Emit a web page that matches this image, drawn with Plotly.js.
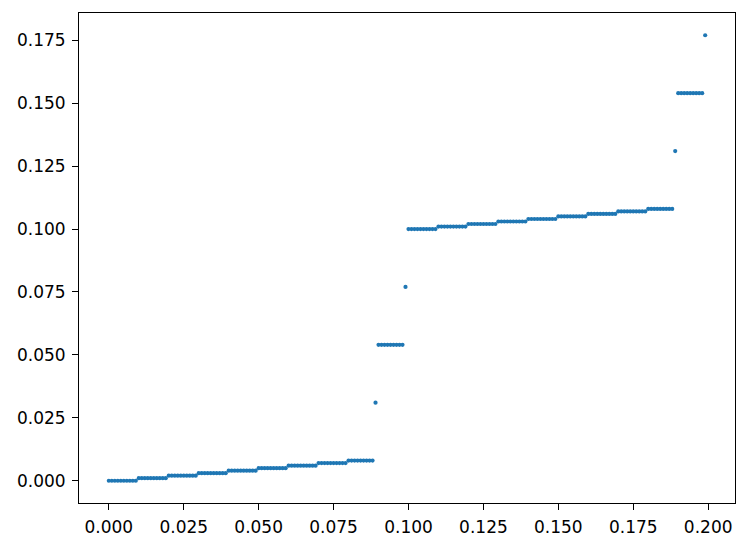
<!DOCTYPE html>
<html>
<head>
<meta charset="utf-8">
<script src="https://cdn.plot.ly/plotly-3.0.1.min.js"></script>
<style>html,body{margin:0;padding:0;background:#fff;}#chart{width:748px;height:546px;}</style>
</head>
<body>
<div id="chart"></div>
<script>
const xValues = [
  0.000,0.001,0.002,0.003,0.004,0.005,0.006,0.007,0.008,0.009,
  0.010,0.011,0.012,0.013,0.014,0.015,0.016,0.017,0.018,0.019,
  0.020,0.021,0.022,0.023,0.024,0.025,0.026,0.027,0.028,0.029,
  0.030,0.031,0.032,0.033,0.034,0.035,0.036,0.037,0.038,0.039,
  0.040,0.041,0.042,0.043,0.044,0.045,0.046,0.047,0.048,0.049,
  0.050,0.051,0.052,0.053,0.054,0.055,0.056,0.057,0.058,0.059,
  0.060,0.061,0.062,0.063,0.064,0.065,0.066,0.067,0.068,0.069,
  0.070,0.071,0.072,0.073,0.074,0.075,0.076,0.077,0.078,0.079,
  0.080,0.081,0.082,0.083,0.084,0.085,0.086,0.087,0.088,0.089,
  0.090,0.091,0.092,0.093,0.094,0.095,0.096,0.097,0.098,0.099,
  0.100,0.101,0.102,0.103,0.104,0.105,0.106,0.107,0.108,0.109,
  0.110,0.111,0.112,0.113,0.114,0.115,0.116,0.117,0.118,0.119,
  0.120,0.121,0.122,0.123,0.124,0.125,0.126,0.127,0.128,0.129,
  0.130,0.131,0.132,0.133,0.134,0.135,0.136,0.137,0.138,0.139,
  0.140,0.141,0.142,0.143,0.144,0.145,0.146,0.147,0.148,0.149,
  0.150,0.151,0.152,0.153,0.154,0.155,0.156,0.157,0.158,0.159,
  0.160,0.161,0.162,0.163,0.164,0.165,0.166,0.167,0.168,0.169,
  0.170,0.171,0.172,0.173,0.174,0.175,0.176,0.177,0.178,0.179,
  0.180,0.181,0.182,0.183,0.184,0.185,0.186,0.187,0.188,0.189,
  0.190,0.191,0.192,0.193,0.194,0.195,0.196,0.197,0.198,0.199
];
const yValues = [
  0.000,0.000,0.000,0.000,0.000,0.000,0.000,0.000,0.000,0.000,
  0.001,0.001,0.001,0.001,0.001,0.001,0.001,0.001,0.001,0.001,
  0.002,0.002,0.002,0.002,0.002,0.002,0.002,0.002,0.002,0.002,
  0.003,0.003,0.003,0.003,0.003,0.003,0.003,0.003,0.003,0.003,
  0.004,0.004,0.004,0.004,0.004,0.004,0.004,0.004,0.004,0.004,
  0.005,0.005,0.005,0.005,0.005,0.005,0.005,0.005,0.005,0.005,
  0.006,0.006,0.006,0.006,0.006,0.006,0.006,0.006,0.006,0.006,
  0.007,0.007,0.007,0.007,0.007,0.007,0.007,0.007,0.007,0.007,
  0.008,0.008,0.008,0.008,0.008,0.008,0.008,0.008,0.008,0.031,
  0.054,0.054,0.054,0.054,0.054,0.054,0.054,0.054,0.054,0.077,
  0.100,0.100,0.100,0.100,0.100,0.100,0.100,0.100,0.100,0.100,
  0.101,0.101,0.101,0.101,0.101,0.101,0.101,0.101,0.101,0.101,
  0.102,0.102,0.102,0.102,0.102,0.102,0.102,0.102,0.102,0.102,
  0.103,0.103,0.103,0.103,0.103,0.103,0.103,0.103,0.103,0.103,
  0.104,0.104,0.104,0.104,0.104,0.104,0.104,0.104,0.104,0.104,
  0.105,0.105,0.105,0.105,0.105,0.105,0.105,0.105,0.105,0.105,
  0.106,0.106,0.106,0.106,0.106,0.106,0.106,0.106,0.106,0.106,
  0.107,0.107,0.107,0.107,0.107,0.107,0.107,0.107,0.107,0.107,
  0.108,0.108,0.108,0.108,0.108,0.108,0.108,0.108,0.108,0.131,
  0.154,0.154,0.154,0.154,0.154,0.154,0.154,0.154,0.154,0.177
];
const xTicks = [0, 0.025, 0.05, 0.075, 0.1, 0.125, 0.15, 0.175, 0.2];
const yTicks = [0, 0.025, 0.05, 0.075, 0.1, 0.125, 0.15, 0.175];

const axisCommon = {
  showgrid: false, zeroline: false, showline: true, mirror: true,
  linecolor: '#000', linewidth: 1, ticks: 'outside', ticklen: 6, tickwidth: 1,
  tickcolor: '#000', tickformat: '.3f',
  tickfont: {family: 'DejaVu Sans', size: 17, color: '#000'}
};

const trace = {
  x: xValues, y: yValues, type: 'scatter', mode: 'markers',
  marker: {color: '#1f77b4', size: 4.2, line: {width: 0}},
  hoverinfo: 'x+y'
};

const layout = {
  width: 748, height: 546,
  margin: {l: 79, r: 13, t: 13, b: 43, pad: 0},
  paper_bgcolor: '#fff', plot_bgcolor: '#fff',
  showlegend: false,
  xaxis: Object.assign({}, axisCommon, {range: [-0.00995, 0.20895], tickvals: xTicks, ticklabelstandoff: 3}),
  yaxis: Object.assign({}, axisCommon, {range: [-0.00885, 0.18585], tickvals: yTicks, ticklabelstandoff: 3})
};

Plotly.newPlot('chart', [trace], layout, {displayModeBar: false, staticPlot: true});
</script>
</body>
</html>
